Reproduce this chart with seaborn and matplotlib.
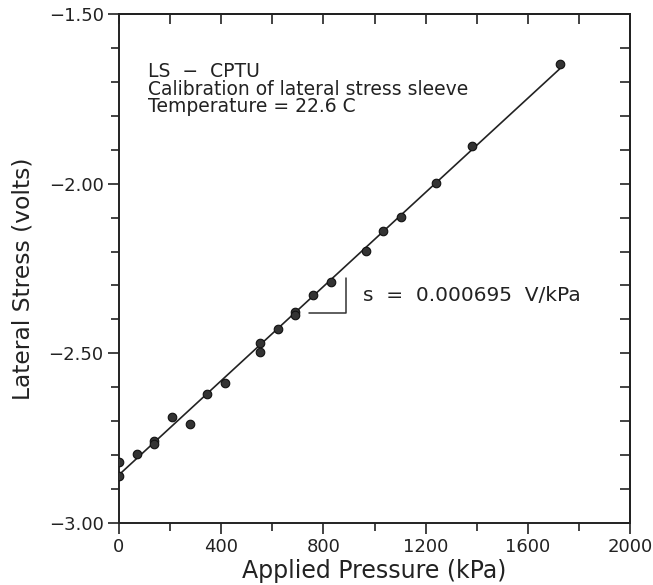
import matplotlib
matplotlib.use("Agg")
import matplotlib.pyplot as plt
from matplotlib.ticker import MultipleLocator
import seaborn as sns
import pandas as pd

# Data (applied pressure in kPa, lateral stress in volts)
pressure_kpa = [0, 0, 69, 138, 138, 207, 276, 345, 414, 552, 552, 621, 690, 690,
                759, 828, 966, 1035, 1104, 1242, 1380, 1725]
lateral_volts = [-2.820, -2.862, -2.797, -2.758, -2.767, -2.689, -2.708, -2.620,
                 -2.588, -2.469, -2.497, -2.429, -2.377, -2.387, -2.329, -2.289,
                 -2.198, -2.139, -2.097, -1.997, -1.888, -1.647]

x_ticks = [0, 400, 800, 1200, 1600, 2000]
y_ticks = [-3.00, -2.50, -2.00, -1.50]
info_lines = ["LS  \u2212  CPTU", "Calibration of lateral stress sleeve",
              "Temperature = 22.6 C"]
slope_label = "s  =  0.000695  V/kPa"
# slope-triangle annotation (data units)
tri_x = [745, 889, 889]
tri_y = [-2.380, -2.380, -2.278]

df = pd.DataFrame({"p": pressure_kpa, "v": lateral_volts})

sns.set_style("white")
plt.rcParams["font.family"] = ["DejaVu Sans"]

fig = plt.figure(figsize=(6.53, 5.85), dpi=100)
ax = fig.add_axes([119 / 653, 1 - 523 / 585, 511 / 653, 509 / 585])

sns.regplot(data=df, x="p", y="v", ax=ax, ci=None, color="#222222",
            scatter_kws=dict(s=38, color="#333333", edgecolor="#111111",
                             linewidths=0.8, alpha=1, zorder=3),
            line_kws=dict(color="#222222", lw=1.2, zorder=2))

ax.plot(tri_x, tri_y, color="#333333", lw=1.1)

ax.set_xlim(0, 2000)
ax.set_ylim(-3.0, -1.5)
ax.set_xticks(x_ticks)
ax.set_xticklabels([str(t) for t in x_ticks])
ax.set_yticks(y_ticks)
ax.set_yticklabels([f"\u2212{abs(t):.2f}" for t in y_ticks])
ax.xaxis.set_minor_locator(MultipleLocator(200))
ax.yaxis.set_minor_locator(MultipleLocator(0.1))

tc = "#222222"
ax.tick_params(axis="both", which="both", bottom=True, left=True,
               top=False, right=False)
ax.tick_params(axis="both", which="major", direction="out", length=8, width=1.2,
               labelsize=13, colors=tc, pad=3)
ax.tick_params(axis="both", which="minor", direction="out", length=5.5, width=1.2,
               colors=tc)

for s in ax.spines.values():
    s.set_color(tc)
    s.set_linewidth(1.4)

top = ax.secondary_xaxis("top")
top.xaxis.set_major_locator(MultipleLocator(200))
top.tick_params(direction="in", length=7, width=1.2, top=True, labeltop=False,
                colors=tc)
top.spines["top"].set_linewidth(1.4)
right = ax.secondary_yaxis("right")
right.yaxis.set_major_locator(MultipleLocator(0.1))
right.tick_params(direction="in", length=7, width=1.2, right=True,
                  labelright=False, colors=tc)
right.spines["right"].set_linewidth(1.4)

ax.set_xlabel("Applied Pressure (kPa)", fontsize=17, color=tc)
ax.set_ylabel("Lateral Stress (volts)", fontsize=16.8, color=tc)
ax.xaxis.set_label_coords(0.5, -0.094, transform=ax.transAxes)
ax.yaxis.set_label_coords(-0.188, 0.479, transform=ax.transAxes)
ax.xaxis.label.set_va("center")
ax.yaxis.label.set_va("center")

ax.text(0.057, 0.905, "\n".join(info_lines), transform=ax.transAxes,
        ha="left", va="top", fontsize=13.5, color=tc, linespacing=0.9)
ax.text(0.477, 0.446, slope_label, transform=ax.transAxes, ha="left",
        va="center", fontsize=14.5, color=tc)

fig.savefig("out.png", dpi=100, facecolor="white")
